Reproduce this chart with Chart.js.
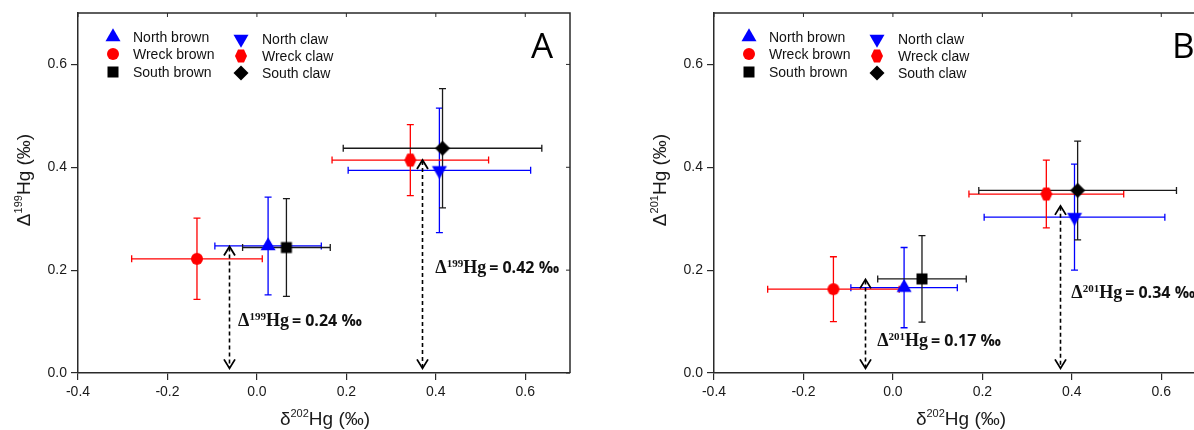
<!DOCTYPE html>
<html><head><meta charset="utf-8">
<script src="https://cdn.jsdelivr.net/npm/chart.js@4.4.1/dist/chart.umd.min.js"></script>
<style>
html,body{margin:0;padding:0;background:#fff;overflow:hidden;}
#wrap{position:relative;width:1194px;height:430px;overflow:hidden;background:#fff;}
canvas{position:absolute;top:0;}
#cA{left:0px;}
#cB{left:636px;}
</style></head><body>
<div id="wrap"><canvas id="cA" width="600" height="430"></canvas><canvas id="cB" width="600" height="430"></canvas></div>
<script>
// ---- data ----
const seriesNames = ['North brown', 'Wreck brown', 'South brown', 'North claw', 'Wreck claw', 'South claw'];
const seriesColors = ['#0000ff', '#ff0000', '#000000', '#0000ff', '#ff0000', '#000000'];
const seriesMarkers = ['triUp', 'circle', 'square', 'triDown', 'hexagon', 'diamond'];
const xTickValues = [-0.4, -0.2, 0.0, 0.2, 0.4, 0.6];
const yTickValues = [0.0, 0.2, 0.4, 0.6];

// Panel A: delta202Hg vs Delta199Hg
const aX    = [0.025, -0.134, 0.066, 0.408, 0.343, 0.415];
const aY    = [0.247, 0.222, 0.244, 0.394, 0.414, 0.437];
const aXErr = [0.119, 0.146, 0.098, 0.204, 0.175, 0.222];
const aYErr = [0.095, 0.079, 0.095, 0.121, 0.069, 0.116];
const aArrowX   = [-0.062, 0.369];
const aArrowTop = [0.246, 0.414];
const aArrowBottom = [0.009, 0.009];
const aLabelValues = ['0.24', '0.42'];
const aLabelX = [-0.042, 0.399];
const aLabelY = [0.091, 0.194];

// Panel B: delta202Hg vs Delta201Hg
const bX    = [0.025, -0.133, 0.065, 0.406, 0.343, 0.413];
const bY    = [0.166, 0.163, 0.183, 0.303, 0.348, 0.355];
const bXErr = [0.119, 0.147, 0.099, 0.202, 0.173, 0.221];
const bYErr = [0.078, 0.063, 0.084, 0.103, 0.066, 0.096];
const bArrowX   = [-0.062, 0.374];
const bArrowTop = [0.182, 0.325];
const bArrowBottom = [0.009, 0.009];
const bLabelValues = ['0.17', '0.34'];
const bLabelX = [-0.035, 0.399];
const bLabelY = [0.052, 0.145];

// ---- markers ----
function makeMarker(kind, color) {
  const c = document.createElement('canvas');
  c.width = 18; c.height = 18;
  const g = c.getContext('2d');
  g.fillStyle = color;
  g.beginPath();
  const cx = 9, cy = 9;
  if (kind === 'triUp') {
    const h = 13, hw = 7.5;
    g.moveTo(cx, cy - 2 * h / 3); g.lineTo(cx + hw, cy + h / 3); g.lineTo(cx - hw, cy + h / 3);
  } else if (kind === 'triDown') {
    const h = 13, hw = 7.5;
    g.moveTo(cx, cy + 2 * h / 3); g.lineTo(cx + hw, cy - h / 3); g.lineTo(cx - hw, cy - h / 3);
  } else if (kind === 'circle') {
    g.arc(cx, cy, 6, 0, Math.PI * 2);
  } else if (kind === 'square') {
    g.rect(cx - 5.5, cy - 5.5, 11, 11);
  } else if (kind === 'diamond') {
    g.moveTo(cx, cy - 7.5); g.lineTo(cx + 7.5, cy); g.lineTo(cx, cy + 7.5); g.lineTo(cx - 7.5, cy);
  } else if (kind === 'hexagon') {
    g.moveTo(cx - 3, cy - 6.5); g.lineTo(cx + 3, cy - 6.5); g.lineTo(cx + 6, cy);
    g.lineTo(cx + 3, cy + 6.5); g.lineTo(cx - 3, cy + 6.5); g.lineTo(cx - 6, cy);
  }
  g.closePath();
  g.fill();
  return c;
}
const markerImgs = seriesMarkers.map((k, i) => makeMarker(k, seriesColors[i]));

const SANS = '"Liberation Sans", Arial, sans-serif';
const SERIF = '"Liberation Serif", "Times New Roman", serif';
const TXT = '#1a1a1a';
const AXIS = '#2a2a2a';

function drawIsoText(ctx, parts, x, y, align) {
  let total = 0;
  parts.forEach(p => { ctx.font = p.font; p.w = ctx.measureText(p.t).width; total += p.w + (p.gap || 0); });
  let cx = align === 'center' ? x - total / 2 : x;
  ctx.textAlign = 'left';
  ctx.textBaseline = 'alphabetic';
  parts.forEach(p => { ctx.font = p.font; ctx.fillText(p.t, cx, y + (p.dy || 0)); cx += p.w + (p.gap || 0); });
}

function makeDecor(cfg) {
  return {
    id: 'decor' + cfg.id,
    beforeDatasetsDraw(chart) {
      const ctx = chart.ctx, xs = chart.scales.x, ys = chart.scales.y;
      ctx.save();
      ctx.lineWidth = 1.3;
      for (let i = 0; i < cfg.xs.length; i++) {
        const px = xs.getPixelForValue(cfg.xs[i]);
        const py = ys.getPixelForValue(cfg.ys[i]);
        const x0 = xs.getPixelForValue(cfg.xs[i] - cfg.xerr[i]);
        const x1 = xs.getPixelForValue(cfg.xs[i] + cfg.xerr[i]);
        const y0 = ys.getPixelForValue(cfg.ys[i] - cfg.yerr[i]);
        const y1 = ys.getPixelForValue(cfg.ys[i] + cfg.yerr[i]);
        const cap = 3.5;
        ctx.strokeStyle = seriesColors[i] === '#000000' ? '#1a1a1a' : seriesColors[i];
        ctx.beginPath();
        ctx.moveTo(x0, py); ctx.lineTo(x1, py);
        ctx.moveTo(x0, py - cap); ctx.lineTo(x0, py + cap);
        ctx.moveTo(x1, py - cap); ctx.lineTo(x1, py + cap);
        ctx.moveTo(px, y0); ctx.lineTo(px, y1);
        ctx.moveTo(px - cap, y0); ctx.lineTo(px + cap, y0);
        ctx.moveTo(px - cap, y1); ctx.lineTo(px + cap, y1);
        ctx.stroke();
      }
      ctx.restore();
    },
    afterDatasetsDraw(chart) {
      const ctx = chart.ctx, xs = chart.scales.x, ys = chart.scales.y;
      ctx.save();
      ctx.strokeStyle = '#000';
      for (let i = 0; i < cfg.arrowX.length; i++) {
        const px = Math.round(xs.getPixelForValue(cfg.arrowX[i])) + 0.5;
        const yt = ys.getPixelForValue(cfg.arrowTop[i]);
        const yb = ys.getPixelForValue(cfg.arrowBottom[i]);
        ctx.lineWidth = 1.6;
        ctx.setLineDash([4, 3]);
        ctx.beginPath(); ctx.moveTo(px, yt + 1); ctx.lineTo(px, yb - 1); ctx.stroke();
        ctx.setLineDash([]);
        ctx.lineWidth = 1.8;
        ctx.beginPath();
        ctx.moveTo(px - 5.5, yt + 9); ctx.lineTo(px, yt); ctx.lineTo(px + 5.5, yt + 9);
        ctx.moveTo(px - 5.5, yb - 9); ctx.lineTo(px, yb); ctx.lineTo(px + 5.5, yb - 9);
        ctx.stroke();
      }
      ctx.restore();
    },
    afterDraw(chart) {
      const ctx = chart.ctx, xs = chart.scales.x, ys = chart.scales.y, ca = chart.chartArea;
      ctx.save();
      ctx.strokeStyle = AXIS; ctx.lineWidth = 1.5;
      ctx.beginPath();
      ctx.moveTo(ca.left, ca.top); ctx.lineTo(ca.right, ca.top); ctx.lineTo(ca.right, ca.bottom);
      ctx.stroke();
      ctx.lineWidth = 1;
      ctx.beginPath();
      xTickValues.forEach(v => { const p = xs.getPixelForValue(v); ctx.moveTo(p, ca.top); ctx.lineTo(p, ca.top + 4); });
      yTickValues.forEach(v => { const p = ys.getPixelForValue(v); ctx.moveTo(ca.right, p); ctx.lineTo(ca.right - 4, p); });
      ctx.stroke();

      // legend
      const col1 = [ca.left + 35, ca.left + 55], col2 = [ca.left + 163, ca.left + 184];
      const rows1 = [ca.top + 24, ca.top + 41, ca.top + 59], rows2 = [ca.top + 26, ca.top + 43, ca.top + 60];
      ctx.font = '14px ' + SANS; ctx.fillStyle = '#111'; ctx.textBaseline = 'middle'; ctx.textAlign = 'left';
      for (let i = 0; i < 6; i++) {
        const c = i < 3 ? col1 : col2, r = i < 3 ? rows1[i] : rows2[i - 3];
        const img = markerImgs[i];
        ctx.drawImage(img, c[0] - img.width / 2, r - img.height / 2);
        ctx.fillText(seriesNames[i], c[1], r + 1);
      }

      // panel letter
      ctx.font = '35px "Open Sans", ' + SANS; ctx.fillStyle = '#000'; ctx.textBaseline = 'alphabetic';
      ctx.textAlign = 'left';
      ctx.fillText(cfg.letter, ca.right - cfg.letterOff, ca.top + 45);

      // axis titles
      ctx.fillStyle = TXT;
      drawIsoText(ctx, [
        { t: 'δ', font: '19px ' + SANS },
        { t: '202', font: '11px ' + SANS, dy: -8 },
        { t: 'Hg (‰)', font: '19px ' + SANS }
      ], (ca.left + ca.right) / 2 + 1, 425, 'center');
      ctx.save();
      ctx.translate(30, 180);
      ctx.rotate(-Math.PI / 2);
      drawIsoText(ctx, [
        { t: 'Δ', font: '19px ' + SANS },
        { t: cfg.iso, font: '11px ' + SANS, dy: -8 },
        { t: 'Hg (‰)', font: '19px ' + SANS }
      ], 0, 0, 'center');
      ctx.restore();

      // annotation labels
      ctx.fillStyle = '#111';
      for (let i = 0; i < cfg.labelValues.length; i++) {
        const lx = xs.getPixelForValue(cfg.labelX[i]);
        const ly = ys.getPixelForValue(cfg.labelY[i]);
        drawIsoText(ctx, [
          { t: 'Δ', font: 'bold 18px ' + SERIF },
          { t: cfg.iso, font: 'bold 11px ' + SERIF, dy: -6 },
          { t: 'Hg', font: 'bold 18px ' + SERIF, gap: 3 },
          { t: '= ' + cfg.labelValues[i] + ' ‰', font: 'bold 16px "Open Sans", ' + SANS }
        ], lx, ly, 'left');
      }
      ctx.restore();
    }
  };
}

function makeChart(canvasId, cfg) {
  const datasets = seriesNames.map((name, i) => ({
    label: name,
    data: [{ x: cfg.xs[i], y: cfg.ys[i] }],
    pointStyle: markerImgs[i],
    pointRadius: 7,
    backgroundColor: seriesColors[i],
    borderColor: seriesColors[i]
  }));
  const tickFont = { family: SANS, size: 14 };
  return new Chart(document.getElementById(canvasId), {
    type: 'scatter',
    data: { datasets },
    options: {
      responsive: false,
      animation: false,
      devicePixelRatio: 1,
      layout: { padding: { left: 0, right: 30, top: 13, bottom: 0 } },
      plugins: { legend: { display: false }, tooltip: { enabled: false } },
      scales: {
        x: {
          type: 'linear', min: -0.4, max: 0.7,
          afterBuildTicks: s => { s.ticks = xTickValues.map(v => ({ value: v })); },
          afterFit: s => { s.height = 57; },
          ticks: { callback: v => Number(v).toFixed(1), font: tickFont, color: TXT, padding: 4, maxRotation: 0, autoSkip: false },
          grid: { display: true, drawOnChartArea: false, drawTicks: true, tickLength: 7, color: AXIS, lineWidth: 1.2 },
          border: { display: true, color: AXIS, width: 1.5 }
        },
        y: {
          type: 'linear', min: 0, max: 0.7,
          afterBuildTicks: s => { s.ticks = yTickValues.map(v => ({ value: v })); },
          afterFit: s => { s.width = 78; },
          ticks: { callback: v => Number(v).toFixed(1), font: tickFont, color: TXT, padding: 4, autoSkip: false },
          grid: { display: true, drawOnChartArea: false, drawTicks: true, tickLength: 7, color: AXIS, lineWidth: 1.2 },
          border: { display: true, color: AXIS, width: 1.5 }
        }
      }
    },
    plugins: [makeDecor(cfg)]
  });
}

makeChart('cA', {
  id: 'A', letter: 'A', letterOff: 39, iso: '199',
  xs: aX, ys: aY, xerr: aXErr, yerr: aYErr,
  arrowX: aArrowX, arrowTop: aArrowTop, arrowBottom: aArrowBottom,
  labelValues: aLabelValues, labelX: aLabelX, labelY: aLabelY
});
makeChart('cB', {
  id: 'B', letter: 'B', letterOff: 34, iso: '201',
  xs: bX, ys: bY, xerr: bXErr, yerr: bYErr,
  arrowX: bArrowX, arrowTop: bArrowTop, arrowBottom: bArrowBottom,
  labelValues: bLabelValues, labelX: bLabelX, labelY: bLabelY
});
</script>
</body></html>
